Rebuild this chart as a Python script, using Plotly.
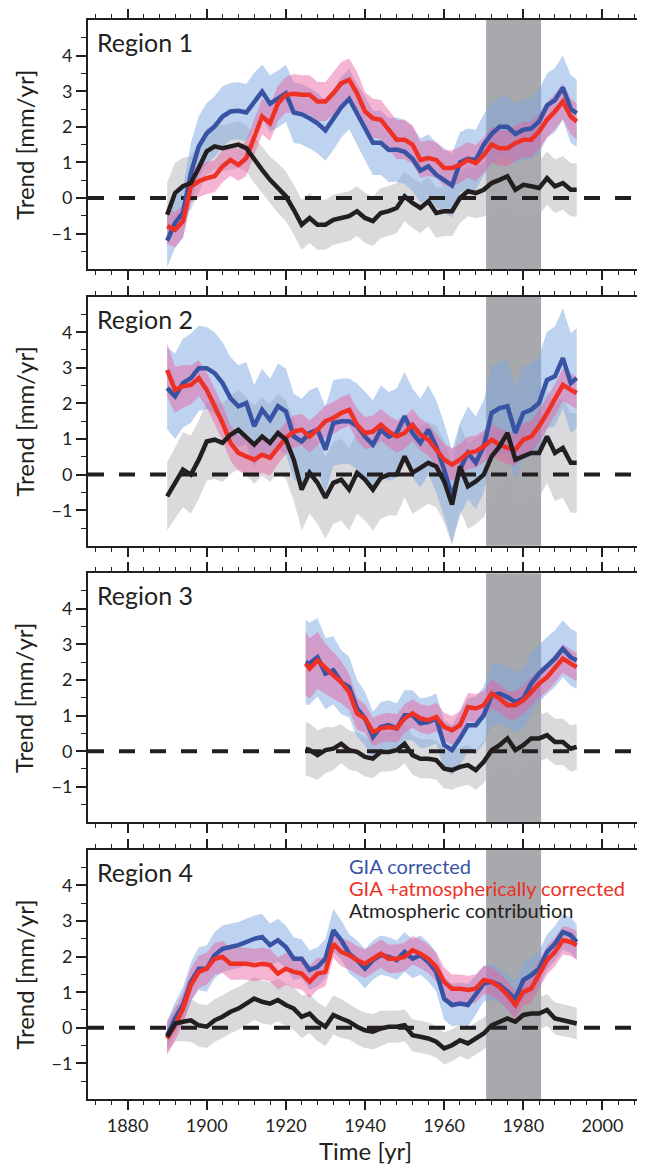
import plotly.graph_objects as go

# ---------------- data ----------------
years = [1890, 1892, 1894, 1896, 1898, 1900, 1902, 1904, 1906, 1908,
         1910, 1912, 1914, 1916, 1918, 1920, 1922, 1924, 1926, 1928,
         1930, 1932, 1934, 1936, 1938, 1940, 1942, 1944, 1946, 1948,
         1950, 1952, 1954, 1956, 1958, 1960, 1962, 1964, 1966, 1968,
         1970, 1972, 1974, 1976, 1978, 1980, 1982, 1984, 1986, 1988,
         1990, 1992, 1993.5]

years3 = [1925, 1926, 1928, 1930, 1932, 1934, 1936, 1938, 1940, 1942,
          1944, 1946, 1948, 1950, 1952, 1954, 1956, 1958, 1960, 1962,
          1964, 1966, 1968, 1970, 1972, 1974, 1976, 1978, 1980, 1982,
          1984, 1986, 1988, 1990, 1992, 1993.5]

# Region 1
r1_gia = [-1.20, -0.70, -0.42, 0.70, 1.45, 1.82, 2.01, 2.29, 2.43, 2.45,
          2.40, 2.72, 2.99, 2.65, 2.78, 2.94, 2.40, 2.35, 2.24, 2.10,
          1.90, 2.20, 2.55, 2.78, 2.35, 1.96, 1.55, 1.55, 1.35, 1.36,
          1.30, 1.10, 0.77, 0.89, 0.65, 0.50, 0.35, 1.00, 1.10, 1.07,
          1.50, 1.80, 2.00, 2.00, 1.80, 1.92, 1.95, 2.15, 2.60, 2.75,
          3.10, 2.50, 2.38]
r1_atm_corr = [-0.79, -0.89, -0.65, 0.33, 0.47, 0.56, 0.61, 0.89, 1.07, 0.93,
               1.12, 1.73, 2.29, 2.10, 2.66, 2.90, 2.93, 2.90, 2.90, 2.71,
               2.71, 2.94, 3.22, 3.32, 2.94, 2.43, 2.24, 2.20, 1.92, 1.64,
               1.64, 1.50, 1.07, 1.12, 1.07, 0.84, 0.84, 0.93, 1.07, 0.98,
               1.21, 1.50, 1.40, 1.40, 1.54, 1.64, 1.64, 1.87, 2.20, 2.43,
               2.71, 2.29, 2.15]
r1_atm = [-0.47, 0.14, 0.33, 0.42, 0.85, 1.31, 1.45, 1.40, 1.45, 1.50,
          1.40, 1.07, 0.79, 0.51, 0.28, 0.05, -0.33, -0.75, -0.56, -0.75,
          -0.75, -0.61, -0.56, -0.51, -0.37, -0.56, -0.65, -0.42, -0.37, -0.28,
          0.05, -0.14, -0.28, -0.09, -0.42, -0.37, -0.37, 0.00, 0.19, 0.14,
          0.23, 0.42, 0.51, 0.61, 0.23, 0.37, 0.33, 0.28, 0.56, 0.33,
          0.42, 0.23, 0.23]
r1_gia_err = [0.75, 0.70, 0.70, 0.85, 0.85, 0.85, 0.85, 0.85, 0.80, 0.80,
              0.80, 0.80, 0.75, 0.80, 0.80, 0.80, 0.85, 0.85, 0.85, 0.85,
              0.85, 0.85, 0.85, 0.85, 0.85, 0.90, 0.90, 0.90, 0.90, 0.90,
              0.90, 0.90, 0.90, 0.90, 0.90, 0.90, 0.90, 0.85, 0.85, 0.85,
              0.85, 0.85, 0.85, 0.85, 0.85, 0.85, 0.85, 0.90, 0.90, 0.90,
              0.90, 0.95, 0.95]
r1_atm_corr_err = [0.50, 0.50, 0.45, 0.45, 0.45, 0.45, 0.45, 0.45, 0.45, 0.45,
                   0.50, 0.50, 0.50, 0.50, 0.50, 0.50, 0.55, 0.55, 0.55, 0.55,
                   0.55, 0.60, 0.60, 0.60, 0.60, 0.55, 0.55, 0.55, 0.55, 0.55,
                   0.55, 0.55, 0.50, 0.50, 0.50, 0.50, 0.50, 0.50, 0.50, 0.50,
                   0.50, 0.50, 0.50, 0.50, 0.50, 0.50, 0.50, 0.50, 0.50, 0.50,
                   0.50, 0.50, 0.50]
r1_atm_err = [0.90, 0.85, 0.80, 0.75, 0.70, 0.65, 0.65, 0.65, 0.65, 0.65,
              0.65, 0.65, 0.65, 0.65, 0.70, 0.70, 0.70, 0.70, 0.70, 0.70,
              0.70, 0.70, 0.70, 0.70, 0.70, 0.70, 0.70, 0.70, 0.70, 0.70,
              0.70, 0.70, 0.70, 0.70, 0.70, 0.70, 0.70, 0.70, 0.70, 0.70,
              0.75, 0.80, 0.80, 0.80, 0.80, 0.80, 0.80, 0.75, 0.75, 0.75,
              0.75, 0.75, 0.75]

# Region 2
r2_gia = [2.43, 2.20, 2.57, 2.71, 2.99, 2.99, 2.85, 2.57, 2.15, 1.92,
          2.01, 1.36, 1.82, 1.54, 1.92, 1.78, 1.07, 0.93, 1.17, 1.26,
          0.70, 1.45, 1.50, 1.50, 1.36, 1.07, 0.84, 1.26, 1.07, 1.17,
          1.64, 1.17, 0.89, 1.26, 0.79, 0.14, -0.61, 0.14, 0.61, 0.33,
          0.79, 1.73, 1.87, 1.92, 1.17, 1.73, 1.82, 2.01, 2.66, 2.76,
          3.27, 2.57, 2.71]
r2_atm_corr = [2.94, 2.38, 2.48, 2.52, 2.71, 2.38, 1.92, 1.45, 0.89, 0.61,
               0.51, 0.42, 0.56, 0.47, 0.75, 1.03, 1.21, 1.26, 1.07, 1.26,
               1.50, 1.59, 1.73, 1.82, 1.40, 1.17, 1.21, 1.40, 1.21, 1.07,
               1.17, 1.40, 1.12, 0.98, 0.70, 0.42, 0.28, 0.42, 0.61, 0.65,
               0.79, 0.98, 0.84, 0.75, 0.70, 0.98, 1.07, 1.36, 1.73, 2.10,
               2.52, 2.38, 2.29]
r2_atm = [-0.61, -0.23, 0.14, 0.00, 0.42, 0.93, 0.98, 0.89, 1.12, 1.26,
          1.07, 0.84, 1.07, 0.89, 1.17, 0.98, 0.42, -0.42, 0.05, -0.23,
          -0.65, -0.23, -0.14, -0.42, 0.05, -0.14, -0.42, -0.09, 0.00, 0.00,
          0.51, 0.05, 0.19, 0.33, 0.23, -0.19, -0.84, 0.23, -0.33, -0.19,
          0.00, 0.51, 0.79, 1.17, 0.42, 0.51, 0.61, 0.61, 1.07, 0.61,
          0.75, 0.33, 0.33]
r2_gia_err = [1.15, 1.20, 1.25, 1.25, 1.20, 1.15, 1.15, 1.15, 1.15, 1.15,
              1.15, 1.15, 1.15, 1.15, 1.20, 1.20, 1.20, 1.20, 1.20, 1.20,
              1.20, 1.20, 1.20, 1.20, 1.20, 1.25, 1.25, 1.25, 1.25, 1.25,
              1.25, 1.25, 1.25, 1.25, 1.30, 1.30, 1.30, 1.30, 1.30, 1.30,
              1.30, 1.30, 1.30, 1.30, 1.30, 1.30, 1.30, 1.35, 1.35, 1.40,
              1.40, 1.40, 1.40]
r2_atm_corr_err = [0.75, 0.65, 0.60, 0.55, 0.50, 0.50, 0.50, 0.50, 0.50, 0.50,
                   0.50, 0.50, 0.50, 0.50, 0.45, 0.45, 0.45, 0.45, 0.45, 0.45,
                   0.45, 0.45, 0.45, 0.45, 0.45, 0.45, 0.45, 0.45, 0.45, 0.45,
                   0.45, 0.45, 0.45, 0.45, 0.45, 0.45, 0.45, 0.45, 0.45, 0.45,
                   0.45, 0.45, 0.45, 0.45, 0.45, 0.45, 0.45, 0.45, 0.45, 0.45,
                   0.45, 0.45, 0.45]
r2_atm_err = [0.95, 1.00, 1.05, 1.10, 1.10, 1.10, 1.10, 1.10, 1.10, 1.10,
              1.10, 1.10, 1.10, 1.10, 1.10, 1.10, 1.15, 1.15, 1.15, 1.15,
              1.15, 1.15, 1.15, 1.15, 1.15, 1.15, 1.15, 1.15, 1.15, 1.15,
              1.15, 1.15, 1.15, 1.15, 1.15, 1.15, 1.15, 1.20, 1.20, 1.20,
              1.20, 1.20, 1.20, 1.20, 1.20, 1.20, 1.20, 1.25, 1.30, 1.35,
              1.40, 1.40, 1.40]

# Region 3 (starts 1925)
r3_gia = [2.50, 2.46, 2.64, 2.18, 2.27, 1.94, 1.80, 1.20, 0.92, 0.40,
          0.68, 0.73, 0.64, 1.01, 1.01, 0.78, 0.82, 0.92, 0.17, 0.03,
          0.36, 0.73, 0.73, 1.01, 1.57, 1.62, 1.52, 1.38, 1.48, 1.90,
          2.18, 2.41, 2.60, 2.88, 2.64, 2.55]
r3_atm_corr = [2.46, 2.32, 2.55, 2.32, 2.13, 1.94, 1.66, 1.06, 0.92, 0.54,
               0.64, 0.68, 0.64, 0.92, 1.06, 0.92, 0.87, 0.96, 0.68, 0.59,
               0.73, 1.24, 1.20, 1.29, 1.62, 1.48, 1.29, 1.29, 1.43, 1.66,
               1.90, 2.08, 2.32, 2.60, 2.46, 2.36]
r3_atm = [0.07, 0.03, -0.11, 0.03, 0.07, 0.21, 0.03, -0.02, -0.16, -0.21,
          -0.02, -0.02, 0.03, 0.21, -0.11, -0.21, -0.21, -0.25, -0.49, -0.53,
          -0.44, -0.39, -0.53, -0.30, 0.03, 0.17, 0.36, 0.03, 0.17, 0.36,
          0.36, 0.45, 0.26, 0.26, 0.07, 0.12]
r3_gia_err = [1.20, 1.15, 1.10, 1.00, 0.95, 0.90, 0.85, 0.80, 0.75, 0.70,
              0.70, 0.70, 0.70, 0.70, 0.70, 0.70, 0.70, 0.70, 0.70, 0.70,
              0.75, 0.75, 0.80, 0.80, 0.85, 0.85, 0.85, 0.85, 0.85, 0.85,
              0.80, 0.80, 0.80, 0.80, 0.80, 0.80]
r3_atm_corr_err = [0.90, 0.85, 0.80, 0.70, 0.65, 0.60, 0.50, 0.45, 0.40, 0.40,
                   0.40, 0.40, 0.40, 0.40, 0.40, 0.40, 0.40, 0.40, 0.40, 0.40,
                   0.40, 0.40, 0.40, 0.40, 0.40, 0.40, 0.40, 0.40, 0.40, 0.40,
                   0.40, 0.40, 0.40, 0.40, 0.40, 0.40]
r3_atm_err = [0.75, 0.75, 0.70, 0.65, 0.60, 0.55, 0.55, 0.55, 0.55, 0.55,
              0.55, 0.55, 0.55, 0.55, 0.55, 0.55, 0.55, 0.55, 0.55, 0.55,
              0.55, 0.55, 0.55, 0.60, 0.60, 0.60, 0.65, 0.65, 0.65, 0.65,
              0.65, 0.65, 0.65, 0.65, 0.65, 0.65]

# Region 4
r4_gia = [-0.21, 0.26, 0.64, 1.29, 1.66, 1.66, 2.04, 2.22, 2.27, 2.32,
          2.41, 2.50, 2.55, 2.32, 2.46, 2.27, 1.94, 1.94, 1.62, 1.71,
          1.94, 2.74, 2.46, 2.08, 1.90, 1.66, 1.90, 2.04, 1.99, 1.90,
          2.13, 1.94, 2.04, 1.85, 1.57, 0.82, 0.64, 0.68, 0.64, 0.92,
          1.24, 1.29, 1.20, 1.01, 0.82, 1.34, 1.48, 1.66, 2.13, 2.36,
          2.69, 2.60, 2.41]
r4_atm_corr = [-0.30, 0.07, 0.54, 1.20, 1.57, 1.66, 1.94, 1.99, 1.80, 1.80,
               1.80, 1.76, 1.80, 1.76, 1.52, 1.66, 1.57, 1.52, 1.29, 1.52,
               1.57, 2.36, 2.13, 2.04, 1.90, 1.80, 1.94, 2.08, 1.94, 1.94,
               1.99, 2.18, 2.08, 1.94, 1.71, 1.29, 1.10, 1.10, 1.06, 1.10,
               1.34, 1.29, 1.15, 0.92, 0.64, 1.01, 1.10, 1.48, 1.90, 2.13,
               2.46, 2.41, 2.32]
r4_atm = [-0.25, 0.12, 0.17, 0.21, 0.07, 0.03, 0.21, 0.31, 0.45, 0.54,
          0.68, 0.82, 0.73, 0.68, 0.78, 0.64, 0.54, 0.31, 0.40, 0.17,
          0.03, 0.36, 0.26, 0.17, 0.03, -0.07, -0.11, -0.02, 0.03, 0.03,
          0.07, -0.21, -0.25, -0.30, -0.39, -0.58, -0.49, -0.35, -0.44, -0.30,
          -0.16, 0.07, 0.17, 0.26, 0.17, 0.36, 0.40, 0.40, 0.50, 0.26,
          0.21, 0.17, 0.12]
r4_gia_err = [0.40, 0.45, 0.50, 0.55, 0.60, 0.65, 0.65, 0.65, 0.65, 0.65,
              0.65, 0.65, 0.65, 0.60, 0.60, 0.60, 0.60, 0.55, 0.55, 0.55,
              0.55, 0.60, 0.55, 0.55, 0.55, 0.55, 0.55, 0.55, 0.55, 0.55,
              0.55, 0.55, 0.55, 0.55, 0.55, 0.60, 0.60, 0.60, 0.60, 0.55,
              0.50, 0.50, 0.50, 0.50, 0.50, 0.50, 0.50, 0.50, 0.50, 0.50,
              0.50, 0.50, 0.50]
r4_atm_corr_err = [0.45, 0.45, 0.45, 0.45, 0.45, 0.45, 0.45, 0.45, 0.45, 0.45,
                   0.45, 0.45, 0.45, 0.45, 0.45, 0.45, 0.45, 0.45, 0.45, 0.45,
                   0.40, 0.40, 0.40, 0.40, 0.40, 0.40, 0.40, 0.40, 0.40, 0.40,
                   0.40, 0.40, 0.40, 0.40, 0.40, 0.40, 0.40, 0.40, 0.40, 0.40,
                   0.40, 0.40, 0.40, 0.40, 0.40, 0.40, 0.40, 0.40, 0.40, 0.40,
                   0.40, 0.40, 0.40]
r4_atm_err = [0.45, 0.50, 0.55, 0.60, 0.60, 0.60, 0.60, 0.60, 0.60, 0.60,
              0.60, 0.60, 0.60, 0.60, 0.60, 0.60, 0.60, 0.60, 0.55, 0.55,
              0.55, 0.55, 0.55, 0.50, 0.50, 0.50, 0.50, 0.50, 0.45, 0.45,
              0.45, 0.45, 0.45, 0.45, 0.45, 0.45, 0.45, 0.45, 0.45, 0.45,
              0.45, 0.45, 0.45, 0.45, 0.45, 0.45, 0.45, 0.45, 0.45, 0.45,
              0.45, 0.45, 0.45]

region_names = ["Region 1", "Region 2", "Region 3", "Region 4"]
shaded_period = [1970.6, 1984.5]
x_range = [1870, 2010]
y_range = [-2, 5]
y_tick_vals = [-1, 0, 1, 2, 3, 4]
y_tick_text = ["\u22121", "0", "1", "2", "3", "4"]
y_minor_vals = [-1.5, -0.5, 0.5, 1.5, 2.5, 3.5, 4.5]
legend_labels = ["GIA corrected", "GIA +atmospherically corrected", "Atmospheric contribution"]

regions = [
    (years, r1_gia, r1_gia_err, r1_atm_corr, r1_atm_corr_err, r1_atm, r1_atm_err),
    (years, r2_gia, r2_gia_err, r2_atm_corr, r2_atm_corr_err, r2_atm, r2_atm_err),
    (years3, r3_gia, r3_gia_err, r3_atm_corr, r3_atm_corr_err, r3_atm, r3_atm_err),
    (years, r4_gia, r4_gia_err, r4_atm_corr, r4_atm_corr_err, r4_atm, r4_atm_err),
]

# ---------------- styling ----------------
OFF = 8                      # page body margin (window px -> figure px)
WIN_W, WIN_H = 645, 1165
W, H = WIN_W - OFF, WIN_H - OFF
# positions below are measured in window pixels
PLOT_L, PLOT_R = 88, 644
panel_px = [(18.4, 268), (295.4, 545), (572.4, 822), (849.4, 1099)]
ML = PLOT_L - OFF
MR = W - (PLOT_R - OFF)
MT = panel_px[0][0] - OFF
MB = H - (panel_px[-1][1] - OFF)
PW, PH = W - ML - MR, H - MT - MB

FONT = "Lato"
INK = "#231f20"
BLUE, RED, BLACK = "#3953a4", "#ee3124", "#231f20"
BLUE_FILL = "rgba(125,168,224,0.50)"
PINK_FILL = "rgba(236,88,158,0.45)"
GRAY_FILL = "rgba(172,174,178,0.45)"
SHADE = "#a7a9ac"


def yfrac(py):
    return (H - MB - (py - OFF)) / PH


def xfrac(px):
    return (px - OFF - ML) / PW


def band(x, y, e, color, xa, ya):
    up = [a + b for a, b in zip(y, e)]
    lo = [a - b for a, b in zip(y, e)]
    return go.Scatter(x=list(x) + list(x)[::-1], y=up + lo[::-1], fill="toself",
                      fillcolor=color, line=dict(width=0), mode="lines",
                      hoverinfo="skip", showlegend=False, xaxis=xa, yaxis=ya)


fig = go.Figure()
shapes, annotations = [], []

for i, (xs, g, ge, c, ce, a, ae) in enumerate(regions):
    n = i + 1
    xa = "x" if n == 1 else f"x{n}"
    ya = "y" if n == 1 else f"y{n}"
    fig.add_trace(band(xs, a, ae, GRAY_FILL, xa, ya))
    fig.add_trace(band(xs, g, ge, BLUE_FILL, xa, ya))
    fig.add_trace(band(xs, c, ce, PINK_FILL, xa, ya))
    fig.add_trace(go.Scatter(x=x_range, y=[0, 0], mode="lines",
                             line=dict(color=INK, width=4, dash="16px,15px"),
                             showlegend=False, hoverinfo="skip", xaxis=xa, yaxis=ya))
    fig.add_trace(go.Scatter(x=xs, y=g, mode="lines", line=dict(color=BLUE, width=4.5),
                             showlegend=False, xaxis=xa, yaxis=ya))
    fig.add_trace(go.Scatter(x=xs, y=c, mode="lines", line=dict(color=RED, width=4.5),
                             showlegend=False, xaxis=xa, yaxis=ya))
    fig.add_trace(go.Scatter(x=xs, y=a, mode="lines", line=dict(color=BLACK, width=4.5),
                             showlegend=False, xaxis=xa, yaxis=ya))

    top, bot = panel_px[i]
    xkey = "xaxis" if n == 1 else f"xaxis{n}"
    ykey = "yaxis" if n == 1 else f"yaxis{n}"
    fig.layout[xkey] = dict(
        domain=[0, 1], range=x_range, anchor=ya, showgrid=False, zeroline=False,
        showline=True, linecolor=INK, linewidth=2, mirror="allticks",
        ticks="outside", ticklen=9, tickwidth=1.5, tickcolor=INK,
        tickmode="linear", tick0=1880, dtick=20,
        showticklabels=(n == 4), tickfont=dict(family=FONT, size=18, color=INK),
        minor=dict(ticks="outside", ticklen=4, tickwidth=1.2, tickcolor=INK,
                   dtick=4, tick0=1880, showgrid=False),
    )
    fig.layout[ykey] = dict(
        domain=[yfrac(bot), yfrac(top)], range=y_range, anchor=xa, showgrid=False,
        zeroline=False, showline=True, linecolor=INK, linewidth=2, mirror=True,
        ticks="outside", ticklen=10, tickwidth=1.5, tickcolor=INK,
        tickmode="array", tickvals=y_tick_vals, ticktext=y_tick_text,
        tickfont=dict(family=FONT, size=18, color=INK),
        minor=dict(ticks="outside", ticklen=5, tickwidth=1.2, tickcolor=INK,
                   tickmode="array", tickvals=y_minor_vals, showgrid=False),
    )
    shapes.append(dict(type="rect", xref=xa, yref=f"{ya} domain",
                       x0=shaded_period[0], x1=shaded_period[1], y0=0, y1=1,
                       fillcolor=SHADE, line=dict(width=0), layer="below"))
    annotations.append(dict(text=region_names[i], xref="paper", yref="paper",
                            x=xfrac(95), y=yfrac(top + 22), xanchor="left", yanchor="middle",
                            showarrow=False, font=dict(family=FONT, size=25, color=INK)))
    annotations.append(dict(text="Trend [mm/yr]", xref="paper", yref="paper",
                            x=xfrac(24), y=yfrac((top + bot) / 2), xanchor="center",
                            yanchor="middle", textangle=-90, showarrow=False,
                            font=dict(family=FONT, size=24, color=INK)))

for txt, col, py in zip(legend_labels, [BLUE, RED, BLACK], [866, 888, 910]):
    annotations.append(dict(text=txt, xref="paper", yref="paper", x=xfrac(348), y=yfrac(py),
                            xanchor="left", yanchor="middle", showarrow=False,
                            font=dict(family=FONT, size=20, color=col)))

annotations.append(dict(text="Time [yr]", xref="paper", yref="paper", x=xfrac(366),
                        y=yfrac(1151), xanchor="center", yanchor="middle", showarrow=False,
                        font=dict(family=FONT, size=24, color=INK)))

fig.update_layout(width=W, height=H, margin=dict(l=ML, r=MR, t=MT, b=MB),
                  paper_bgcolor="white", plot_bgcolor="rgba(0,0,0,0)",
                  shapes=shapes, annotations=annotations, showlegend=False)

fig.write_html("out.html")
